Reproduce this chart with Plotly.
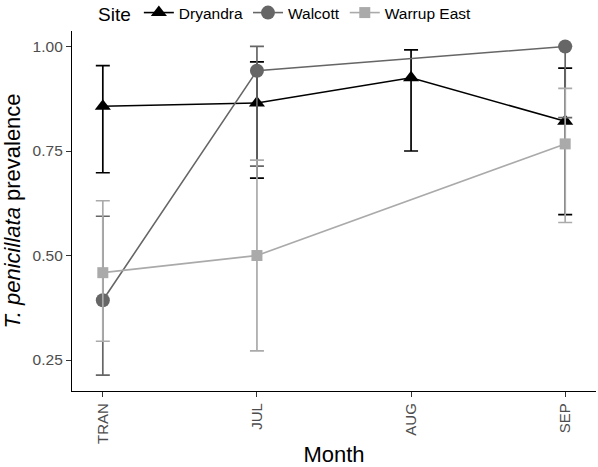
import plotly.graph_objects as go

months = ["TRAN", "JUL", "AUG", "SEP"]

dry_x = ["TRAN", "JUL", "AUG", "SEP"]
dry_y = [0.857, 0.865, 0.925, 0.821]
dry_hi = [0.954, 0.963, 0.992, 0.948]
dry_lo = [0.698, 0.685, 0.750, 0.598]

wal_x = ["TRAN", "JUL", "SEP"]
wal_y = [0.393, 0.942, 1.000]
wal_hi = [0.594, 1.000, 1.000]
wal_lo = [0.214, 0.714, 0.830]

war_x = ["TRAN", "JUL", "SEP"]
war_y = [0.459, 0.500, 0.767]
war_hi = [0.631, 0.728, 0.900]
war_lo = [0.295, 0.272, 0.579]

y_ticks = [0.25, 0.50, 0.75, 1.00]

series = [
    ("Dryandra", dry_x, dry_y, dry_hi, dry_lo, "#000000", "triangle-up", 14),
    ("Walcott", wal_x, wal_y, wal_hi, wal_lo, "#666666", "circle", 14),
    ("Warrup East", war_x, war_y, war_hi, war_lo, "#aaaaaa", "square", 11),
]

fig = go.Figure()
for name, xs, ys, hi, lo, col, sym, sz in series:
    fig.add_trace(go.Scatter(
        x=xs, y=ys, name=name, mode="lines+markers",
        line=dict(color=col, width=1.6),
        marker=dict(symbol=sym, size=sz, color=col),
        error_y=dict(type="data", symmetric=False,
                     array=[h - v for h, v in zip(hi, ys)],
                     arrayminus=[v - l for l, v in zip(lo, ys)],
                     color=col, thickness=1.7, width=7),
    ))

font_family = "Liberation Sans, Arial, sans-serif"
fig.update_layout(
    template="none",
    width=598, height=467,
    margin=dict(l=72, r=2, t=31, b=76, autoexpand=False),
    paper_bgcolor="white", plot_bgcolor="white",
    font=dict(family=font_family, color="#000000"),
    showlegend=True,
    legend=dict(
        orientation="h", xref="paper", yref="paper",
        x=0.046, y=1.0, xanchor="left", yanchor="bottom",
        font=dict(size=15.5, family=font_family, color="#000000"),
        title=dict(text="Site", font=dict(size=19, family=font_family)),
        itemwidth=30, tracegroupgap=0, bgcolor="rgba(0,0,0,0)",
    ),
    xaxis=dict(
        type="category", categoryorder="array", categoryarray=months,
        range=[-0.2, 3.2], showline=True, linecolor="#000000", linewidth=1.3,
        ticks="outside", ticklen=5, tickcolor="#333333", tickwidth=1.3,
        tickangle=-90, tickfont=dict(size=15, color="#4d4d4d"),
        showgrid=False, zeroline=False, automargin=False,
        title=dict(text="Month", font=dict(size=22), standoff=8),
    ),
    yaxis=dict(
        range=[0.176, 1.037], showline=True, linecolor="#000000", linewidth=1.3,
        ticks="outside", ticklen=5, tickcolor="#333333", tickwidth=1.3,
        tickvals=y_ticks, tickformat=".2f", tickfont=dict(size=15.5, color="#4d4d4d"),
        showgrid=False, zeroline=False, automargin=False,
        title=dict(text="<i>T. penicillata</i> prevalence", font=dict(size=22), standoff=8),
    ),
)

fig.write_html("out.html", config={"displayModeBar": False},
               post_script="document.body.style.margin='0';")
